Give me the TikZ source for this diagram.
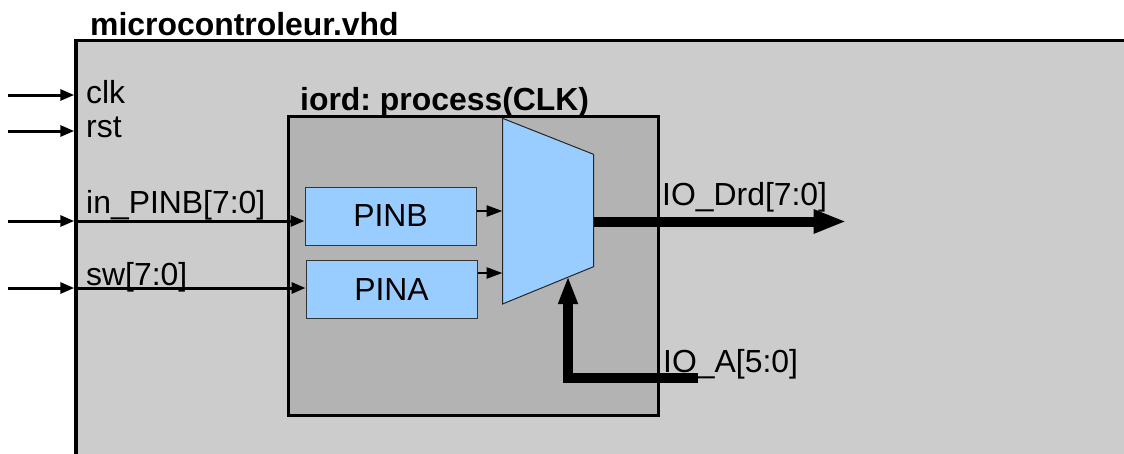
\documentclass[tikz,border=0pt]{standalone}
\usepackage{fontspec}
\setmainfont{Liberation Sans}
\usetikzlibrary{arrows.meta,positioning}
\frenchspacing

\definecolor{topgray}{HTML}{CCCCCC}
\definecolor{procgray}{HTML}{B3B3B3}
\definecolor{regblue}{HTML}{99CCFF}

\begin{document}
\begin{tikzpicture}[
        x=1pt, y=-1pt,
        font=\fontsize{31.9}{36}\selectfont,
        % entity / process boxes
        entity/.style={
            rectangle,
            draw=black,
            line width=3.5pt,
            fill=topgray,
            inner sep=0pt
        },
        proc/.style={
            rectangle,
            draw=black,
            line width=3pt,
            fill=procgray,
            inner sep=0pt
        },
        % registers
        reg/.style={
            rectangle,
            draw=black!80,
            line width=1pt,
            fill=regblue,
            minimum width=171pt,
            minimum height=58pt,
            inner sep=0pt
        },
        % signals
        sig/.style={
            -{Triangle[length=14pt,width=11pt]},
            line width=3pt
        },
        sigin/.style={
            -{Triangle[length=16pt,width=11pt]},
            line width=2.5pt
        },
        bus/.style={
            line width=10pt
        },
        portlabel/.style={
            anchor=base west,
            inner sep=0pt
        },
        title/.style={
            anchor=base west,
            inner sep=0pt,
            font=\fontsize{31.9}{36}\selectfont\bfseries
        }
    ]

    \clip (0,0) rectangle (1124,453);
    \fill[white] (0,0) rectangle (1124,453);

    % --- 1. boxes ---

    % microcontroleur (runs off the page)
    \node (top) [entity, minimum width=1100pt, minimum height=460pt] at (626,270.5) {};
    \node (toptitle) [title] at (90,35) {microcontroleur.vhd};

    % process iord
    \node (iord) [proc, minimum width=369.5pt, minimum height=298.5pt] at (473.25,265.75) {};
    \node (iordtitle) [title] at (300,110) {iord: process(CLK)};

    % registers
    \node (pinb) [reg] at (390.5,216) {PINB};
    \node (pina) [reg] at (391.5,289.5) {PINA};

    % multiplexer
    \draw[fill=regblue, draw=black!85, line width=1pt]
        (502.5,118.3) -- (593.5,154.3) -- (593.5,266.7) -- (502.5,304) -- cycle;
    \coordinate (muxinb) at (502.5,211);
    \coordinate (muxina) at (502.5,273);
    \coordinate (muxout) at (593.5,221.5);
    \coordinate (muxsel) at (568,276);

    % --- 2. ports ---

    \coordinate (clkin) at (8,95);
    \coordinate (rstin) at (8,131);
    \coordinate (pinbin) at (8,221);
    \coordinate (swin) at (8,288);
    \coordinate (drdout) at (846.5,221.5);
    \coordinate (ioain) at (698,378);

    \draw[sig] (clkin) -- (clkin -| top.west);
    \node (clk) [portlabel] at (86,103) {clk};

    \draw[sig] (rstin) -- (rstin -| top.west);
    \node (rst) [portlabel] at (86,137) {rst};

    \draw[sig] (pinbin) -- (pinbin -| top.west);
    \draw[sig] (pinbin -| top.west) -- (pinbin -| pinb.west);
    \node (inpinb) [portlabel] at (86,213) {in\_PINB[7:0]};

    \draw[sig] (swin) -- (swin -| top.west);
    \draw[sig] (swin -| top.west) -- (swin -| pina.west);
    \node (sw) [portlabel] at (86,285) {sw[7:0]};

    % --- 3. inside the process ---

    \draw[sigin] (pinb.east |- muxinb) -- (muxinb);
    \draw[sigin] (pina.east |- muxina) -- (muxina);

    % output bus
    \draw[bus, -{Triangle[length=33pt,width=22pt]}] (muxout) -- (drdout);
    \node (drd) [portlabel] at (662,205) {IO\_Drd[7:0]};

    % address bus
    \draw[bus, line join=miter, -{Triangle[length=28pt,width=18pt]}] (ioain) -| (muxsel);
    \node (ioa) [portlabel] at (663,372) {IO\_A[5:0]};

\end{tikzpicture}
\end{document}
